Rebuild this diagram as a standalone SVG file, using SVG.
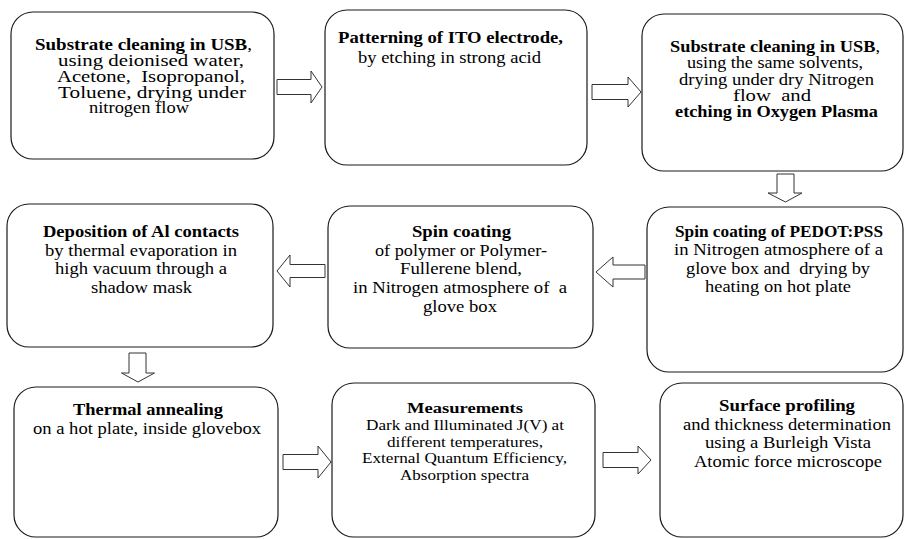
<svg xmlns="http://www.w3.org/2000/svg" width="904" height="539" viewBox="0 0 904 539">
<style>
.box{fill:#fff;stroke:#1a1a1a;stroke-width:1.2}
.arr{fill:#fff;stroke:#333;stroke-width:1}
text{font-family:"Liberation Serif","Times New Roman",Times,serif;fill:#000}
.r1 text{font-size:16px}
.r2 text{font-size:17.5px}
.r3 text{font-size:16.5px}
#n8 text{font-size:15.5px}
.b{font-weight:bold}
.n{font-weight:normal}
</style>
<rect width="904" height="539" fill="#fff"/>
<g id="connectors">
<path class="arr" d="M277,79.5 H311 V71 L322,87 L311,103 V94.5 H277 Z"/>
<path class="arr" d="M592,84.5 H628 V77 L641,92 L628,107 V99.5 H592 Z"/>
<path class="arr" d="M777,174 H794 V193 H802 L785.5,202 L768,193 H777 Z"/>
<path class="arr" d="M645,265 H613 V257 L596,272 L613,287 V279 H645 Z"/>
<path class="arr" d="M325,264.5 H290 V255 L277,271 L290,287 V277.5 H325 Z"/>
<path class="arr" d="M129,353 H146 V373 H154.5 L138,382 L121.5,373 H129 Z"/>
<path class="arr" d="M283,454.5 H318 V446 L331,462 L318,478 V469.5 H283 Z"/>
<path class="arr" d="M603,452.5 H638 V446 L651,460 L638,474 V467.5 H603 Z"/>
</g>
<g id="n1" class="r1">
<rect class="box" x="11" y="12" width="263" height="147" rx="22"/>
<text x="35" y="50" textLength="217" lengthAdjust="spacingAndGlyphs"><tspan class="b">Substrate cleaning in USB</tspan><tspan class="n">,</tspan></text>
<text x="58" y="66" textLength="186" lengthAdjust="spacingAndGlyphs">using deionised water,</text>
<text x="57" y="82" textLength="188" lengthAdjust="spacingAndGlyphs" xml:space="preserve">Acetone,  Isopropanol,</text>
<text x="58" y="97.5" textLength="188" lengthAdjust="spacingAndGlyphs">Toluene, drying under</text>
<text x="89" y="113" textLength="100" lengthAdjust="spacingAndGlyphs">nitrogen flow</text>
</g>
<g id="n2" class="r1">
<rect class="box" x="325" y="10" width="262" height="155" rx="22"/>
<text class="b" x="338" y="42.5" textLength="225" lengthAdjust="spacingAndGlyphs">Patterning of ITO electrode,</text>
<text x="358" y="62.5" textLength="183" lengthAdjust="spacingAndGlyphs">by etching in strong acid</text>
</g>
<g id="n3" class="r1">
<rect class="box" x="642" y="14" width="261" height="157" rx="22"/>
<text x="670" y="52" textLength="210" lengthAdjust="spacingAndGlyphs"><tspan class="b">Substrate cleaning in USB</tspan><tspan class="n">,</tspan></text>
<text x="687" y="68" textLength="176" lengthAdjust="spacingAndGlyphs">using the same solvents,</text>
<text x="679" y="84.5" textLength="195" lengthAdjust="spacingAndGlyphs">drying under dry Nitrogen</text>
<text x="733" y="100.5" textLength="78" lengthAdjust="spacingAndGlyphs" xml:space="preserve">flow  and</text>
<text class="b" x="675" y="117" textLength="203" lengthAdjust="spacingAndGlyphs">etching in Oxygen Plasma</text>
</g>
<g id="n4" class="r2">
<rect class="box" x="7" y="204" width="266" height="143" rx="22"/>
<text class="b" x="43" y="237" textLength="196" lengthAdjust="spacingAndGlyphs">Deposition of Al contacts</text>
<text x="45" y="255.5" textLength="192" lengthAdjust="spacingAndGlyphs">by thermal evaporation in</text>
<text x="55" y="274" textLength="172" lengthAdjust="spacingAndGlyphs">high vacuum through a</text>
<text x="91" y="292.5" textLength="101" lengthAdjust="spacingAndGlyphs">shadow mask</text>
</g>
<g id="n5" class="r2">
<rect class="box" x="328" y="206" width="265" height="142" rx="22"/>
<text class="b" x="412" y="237" textLength="99" lengthAdjust="spacingAndGlyphs">Spin coating</text>
<text x="375" y="255.5" textLength="172" lengthAdjust="spacingAndGlyphs">of polymer or Polymer-</text>
<text x="400" y="274" textLength="122" lengthAdjust="spacingAndGlyphs">Fullerene blend,</text>
<text x="353" y="293" textLength="214" lengthAdjust="spacingAndGlyphs" xml:space="preserve">in Nitrogen atmosphere of  a</text>
<text x="423" y="311.5" textLength="74" lengthAdjust="spacingAndGlyphs">glove box</text>
</g>
<g id="n6" class="r2">
<rect class="box" x="647" y="207" width="256" height="165" rx="22"/>
<text class="b" x="675" y="236.5" textLength="208" lengthAdjust="spacingAndGlyphs">Spin coating of PEDOT:PSS</text>
<text x="674" y="255" textLength="209" lengthAdjust="spacingAndGlyphs">in Nitrogen atmosphere of a</text>
<text x="686" y="273.5" textLength="184" lengthAdjust="spacingAndGlyphs" xml:space="preserve">glove box and  drying by</text>
<text x="705" y="292" textLength="146" lengthAdjust="spacingAndGlyphs">heating on hot plate</text>
</g>
<g id="n7" class="r3">
<rect class="box" x="14" y="387" width="264" height="150" rx="22"/>
<text class="b" x="73" y="415" textLength="150" lengthAdjust="spacingAndGlyphs">Thermal annealing</text>
<text x="33" y="433.5" textLength="228" lengthAdjust="spacingAndGlyphs">on a hot plate, inside glovebox</text>
</g>
<g id="n8" class="r3">
<rect class="box" x="332" y="383" width="263" height="154" rx="22"/>
<text class="b" x="407" y="413" textLength="116" lengthAdjust="spacingAndGlyphs">Measurements</text>
<text x="366" y="430" textLength="198" lengthAdjust="spacingAndGlyphs">Dark and Illuminated J(V) at</text>
<text x="387" y="446.5" textLength="156" lengthAdjust="spacingAndGlyphs">different temperatures,</text>
<text x="362" y="463" textLength="205" lengthAdjust="spacingAndGlyphs">External Quantum Efficiency,</text>
<text x="400" y="479.5" textLength="129" lengthAdjust="spacingAndGlyphs">Absorption spectra</text>
</g>
<g id="n9" class="r3">
<rect class="box" x="660" y="383" width="243" height="154" rx="22"/>
<text class="b" x="719" y="411" textLength="136" lengthAdjust="spacingAndGlyphs">Surface profiling</text>
<text x="683" y="429.5" textLength="208" lengthAdjust="spacingAndGlyphs">and thickness determination</text>
<text x="705" y="448" textLength="166" lengthAdjust="spacingAndGlyphs">using a Burleigh Vista</text>
<text x="694" y="466.5" textLength="188" lengthAdjust="spacingAndGlyphs">Atomic force microscope</text>
</g>
</svg>
